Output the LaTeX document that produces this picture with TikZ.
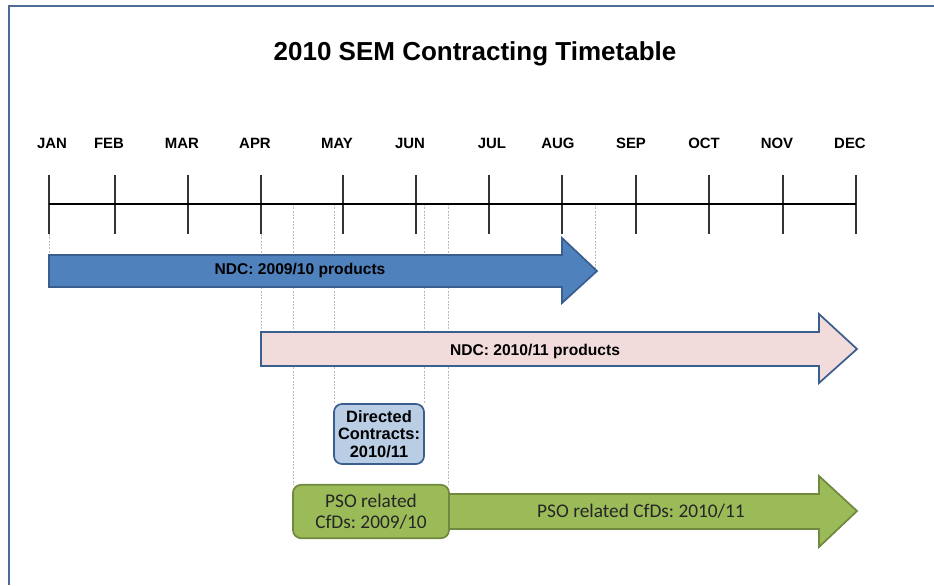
\documentclass[tikz,border=0pt]{standalone}
\usepackage{fontspec}
\setmainfont{Liberation Sans}
\newfontfamily\calfont{Carlito}
\frenchspacing
\definecolor{framec}{HTML}{4F6B97}
\definecolor{bluefill}{HTML}{4F81BD}
\definecolor{blueline}{HTML}{3A5F8F}
\definecolor{pinkfill}{HTML}{F2DCDB}
\definecolor{dirfill}{HTML}{B9CDE5}
\definecolor{greenfill}{HTML}{9BBB59}
\definecolor{greenline}{HTML}{71893F}
\definecolor{guide}{HTML}{BBBBBB}
\tikzset{
  month/.style={font=\fontsize{11.2}{13}\selectfont\bfseries, anchor=base, inner sep=0pt},
  tickline/.style={draw=black!80, line width=0.9pt},
  guideline/.style={draw=guide, line width=0.4pt, dash pattern=on 1.5pt off 1pt},
  barlabel/.style={font=\fontsize{11.7}{13}\selectfont\bfseries, text=black},
  pslabel/.style={font=\calfont\fontsize{14.5}{16}\selectfont, text=black!85},
}
\begin{document}
\frenchspacing
\begin{tikzpicture}[x=0.75pt,y=-0.75pt]
\useasboundingbox (0,0) rectangle (934,585);
\fill[white] (0,0) rectangle (934,585);
% frame
\draw[framec, line width=2.2pt] (9,585) -- (9,6) -- (934,6);
% title
\node[font=\fontsize{19.5}{22}\selectfont\bfseries] (title) at (475,54) {2010 SEM Contracting Timetable};
% guide lines
\draw[guideline] (49,234) -- (49,255);
\draw[guideline] (261,204) -- (261,332);
\draw[guideline] (293,204) -- (293,485);
\draw[guideline] (334,204) -- (334,404);
\draw[guideline] (424,204) -- (424,404);
\draw[guideline] (448,204) -- (448,485);
\draw[guideline] (595,204) -- (595,271);
% axis
\foreach \lx/\tx/\m in {52/49/JAN,109/115/FEB,182/188/MAR,255/261/APR,337/343/MAY,410/416/JUN,492/489/JUL,558/562/AUG,631/636/SEP,704/709/OCT,777/783/NOV,850/856/DEC}{
  \node[month] (lab\m) at (\lx,148.5) {\m};
  \coordinate (t\m a) at (\tx,175);
  \coordinate (t\m b) at (\tx,234);
  \draw[tickline] (t\m a) -- (t\m b);
}
\draw[black, line width=1.3pt] (49,204) coordinate (axL) -- (856,204) coordinate (axR);
% blue arrow
\draw[fill=bluefill, draw=blueline, line width=1.3pt, line join=miter]
  (49,255) -- (562,255) -- (562,238) -- (597,271) -- (562,303) -- (562,287) -- (49,287) -- cycle;
\node[barlabel] (ndc09) at (300,270) {NDC: 2009/10 products};
% pink arrow
\draw[fill=pinkfill, draw=blueline, line width=1.3pt, line join=miter]
  (261,332) -- (819,332) -- (819,314) -- (857,349) -- (819,383) -- (819,366) -- (261,366) -- cycle;
\node[barlabel] (ndc10) at (535,351) {NDC: 2010/11 products};
% directed contracts
\node[draw=blueline, fill=dirfill, line width=1.3pt, rounded corners=6pt,
  minimum width=67.5pt, minimum height=45pt, inner sep=0pt, align=center,
  font=\fontsize{12.3}{13.2}\selectfont\bfseries] (dc) at (379,434)
  {Directed\\Contracts:\\2010/11};
% green arrow
\draw[fill=greenfill, draw=greenline, line width=1.3pt, line join=miter]
  (440,494) -- (819,494) -- (819,476) -- (857,511) -- (819,547) -- (819,529) -- (440,529) -- cycle;
\node[pslabel] (pso10) at (641,511) {PSO related CfDs: 2010/11};
% PSO box
\node[draw=greenline, fill=greenfill, line width=1.3pt, rounded corners=6pt,
  minimum width=117pt, minimum height=40pt, inner sep=0pt, align=center,
  font=\calfont\fontsize{14.5}{16}\selectfont, text=black!85] (pso09) at (371,511.5)
  {PSO related\\CfDs: 2009/10};
\end{tikzpicture}
\end{document}
